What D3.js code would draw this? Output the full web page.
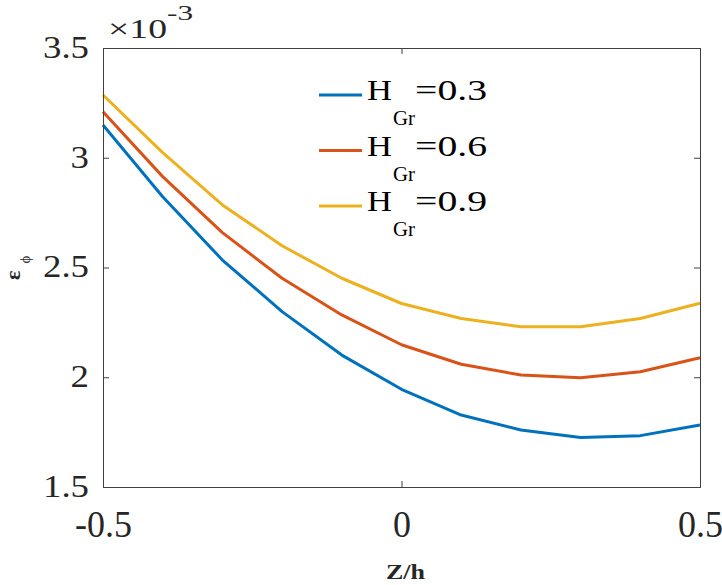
<!DOCTYPE html>
<html><head><meta charset="utf-8">
<script src="https://cdn.jsdelivr.net/npm/d3@7"></script>
<style>body{margin:0;background:#fff}svg{display:block}</style>
</head><body>
<svg id="c" width="722" height="585"></svg>
<script>
const zValues = [-0.5,-0.4,-0.3,-0.2,-0.1,0,0.1,0.2,0.3,0.4,0.5];
const seriesNames = ["0.3","0.6","0.9"];
const seriesColors = ["#0072BD","#D95319","#EDB120"];
const hgr03 = [3.149,2.822,2.534,2.299,2.101,1.945,1.828,1.760,1.726,1.734,1.782];
const hgr06 = [3.210,2.914,2.659,2.451,2.284,2.148,2.059,2.010,1.998,2.025,2.089];
const hgr09 = [3.286,3.023,2.785,2.599,2.451,2.336,2.268,2.230,2.230,2.268,2.337];
const xTicks = [-0.5,0,0.5];
const yTicks = [1.5,2,2.5,3,3.5];
const series = [hgr03,hgr06,hgr09];

const svg = d3.select("#c");
const L=103,R=700,T=48,B=487;
const x = d3.scaleLinear().domain([-0.5,0.5]).range([L,R]);
const y = d3.scaleLinear().domain([1.5,3.5]).range([B,T]);
const axisColor="#404040";
const font="'Liberation Serif','Times New Roman',serif";

// lines
const line = d3.line().x((d,i)=>x(zValues[i])).y(d=>y(d));
series.forEach((s,k)=>{
  svg.append("path").datum(s).attr("d",line).attr("fill","none")
    .attr("stroke",seriesColors[k]).attr("stroke-width",3).attr("stroke-linejoin","round");
});

// axes box
const tl=6;
const gB = svg.append("g").attr("transform",`translate(0,${B})`)
  .call(d3.axisBottom(x).tickValues(xTicks).tickSize(-tl).tickPadding(0).tickFormat(d=>d===0?"0":String(d)));
const gT = svg.append("g").attr("transform",`translate(0,${T})`)
  .call(d3.axisTop(x).tickValues(xTicks).tickSize(-tl).tickFormat(""));
const gL = svg.append("g").attr("transform",`translate(${L},0)`)
  .call(d3.axisLeft(y).tickValues(yTicks).tickSize(-tl).tickPadding(0).tickFormat(d3.format(".1~f")));
const gR = svg.append("g").attr("transform",`translate(${R},0)`)
  .call(d3.axisRight(y).tickValues(yTicks).tickSize(-tl).tickFormat(""));
[gB,gT,gL,gR].forEach(g=>{
  g.select(".domain").attr("stroke",axisColor).attr("stroke-width",1);
  g.selectAll(".tick line").attr("stroke",axisColor).attr("stroke-width",1);
  g.selectAll("text").attr("fill","#262626").style("font-family",font);
});
gB.selectAll("text").style("font-size","36px").attr("y",47).attr("dy",0)
  .attr("transform","scale(1,1.06)");
gL.selectAll("text").style("font-size","32px").attr("x",0).attr("dy",0).attr("y",9.3)
  .attr("transform","translate(-14,0) scale(1.15,1)");

// exponent
svg.append("text").attr("x",108).attr("y",38).attr("fill","#262626")
  .style("font-family",font).style("font-size","27px")
  .attr("textLength",59).attr("lengthAdjust","spacingAndGlyphs").text("\u00D710");
svg.append("text").attr("x",167).attr("y",20).attr("fill","#262626")
  .style("font-family",font).style("font-size","22px")
  .attr("textLength",26).attr("lengthAdjust","spacingAndGlyphs").text("-3");

// axis labels
svg.append("text").attr("x",386).attr("y",579)
  .attr("fill","#262626").style("font-family",font).style("font-size","22px").style("font-weight","bold")
  .attr("textLength",39).attr("lengthAdjust","spacingAndGlyphs").text("Z/h");
const yl = svg.append("text").attr("transform","translate(20,280) rotate(-90)").attr("text-anchor","start")
  .attr("fill","#262626").style("font-family",font).style("font-size","22px").style("font-weight","bold");
yl.append("tspan").text("\u03B5");
yl.append("tspan").attr("dy",10).attr("dx",7).style("font-size","15px").style("font-weight","normal").text("\u03D5");

// legend
seriesNames.forEach((n,k)=>{
  const ly = 95 + k*55.5;
  svg.append("line").attr("x1",319).attr("x2",362).attr("y1",ly).attr("y2",ly)
    .attr("stroke",seriesColors[k]).attr("stroke-width",3);
  const base = ly + 5;
  const txt = (xx,yy,size,len,s)=>svg.append("text").attr("x",xx).attr("y",yy).attr("fill","#000")
    .style("font-family",font).style("font-size",size+"px")
    .attr("textLength",len).attr("lengthAdjust","spacingAndGlyphs").text(s);
  txt(367,base,30,25,"H");
  txt(393,base+25,22,22,"Gr");
  txt(415,base,30,72,"=" + n);
});
</script>
</body></html>
